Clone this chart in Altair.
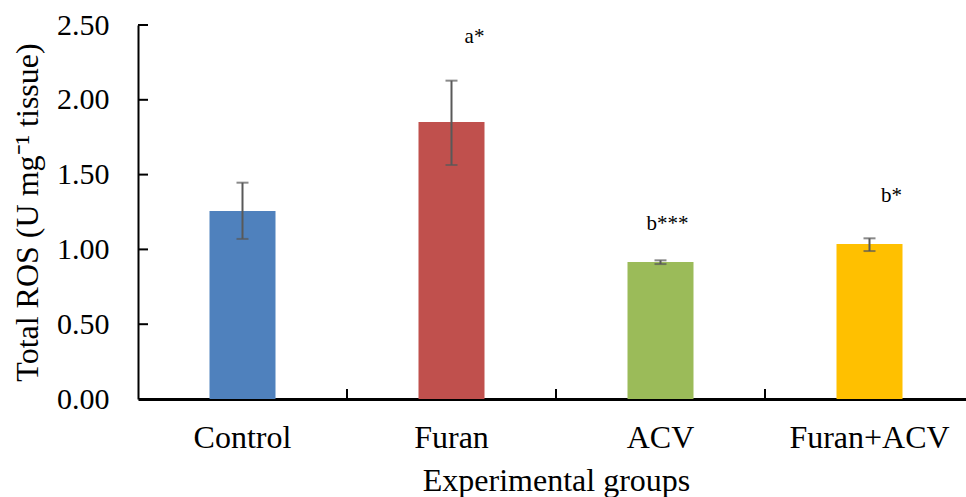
import altair as alt
import pandas as pd

groups = ["Control", "Furan", "ACV", "Furan+ACV"]
means = [1.257, 1.852, 0.916, 1.036]
err_low = [1.070, 1.564, 0.902, 0.989]
err_high = [1.446, 2.128, 0.927, 1.074]
colors = ["#4F81BD", "#C0504D", "#9BBB59", "#FFC000"]

sig_groups = ["Furan", "ACV", "Furan+ACV"]
sig_labels = ["a*", "b***", "b*"]
sig_y = [2.38, 1.13, 1.32]

y_ticks = [0.5, 1.0, 1.5, 2.0, 2.5]

df = pd.DataFrame({"group": groups, "mean": means, "lo": err_low, "hi": err_high, "color": colors})
sig_df = pd.DataFrame({"group": sig_groups, "label": sig_labels, "y": sig_y})
ytick_df = pd.DataFrame({"v": y_ticks})
xtick_df = pd.DataFrame({"group": groups[1:]})

FONT = "Liberation Serif"
H = 374
common = dict(labelFont=FONT, labelColor="black",
              titleFont=FONT, titleFontSize=32, titleColor="black", titleFontWeight="normal")

xscale = alt.Scale(domain=groups, range=[0, 836], paddingInner=0, paddingOuter=0)
yscale = alt.Scale(domain=[0, 2.5], nice=False, zero=True)

x_enc = alt.X("group:N", scale=xscale, sort=groups,
              axis=alt.Axis(title="Experimental groups", labelAngle=0, ticks=False,
                            labelPadding=23, labelFontSize=32, domainWidth=3, domainColor="black",
                            titleBaseline="alphabetic", titleY=91, **common))
y_enc = alt.Y("mean:Q", scale=yscale,
              axis=alt.Axis(title="Total ROS (U mg\u207b\u00b9 tissue)", values=[0] + y_ticks,
                            format=".2f", ticks=False, labelPadding=29, labelFontSize=30,
                            domainWidth=2, domainColor="black", grid=False, titleAngle=-90,
                            titleBaseline="alphabetic", titleX=-101, titleY=187,
                            titleAlign="center", **common))

bars = alt.Chart(df).mark_bar(size=66).encode(
    x=x_enc,
    y=y_enc,
    color=alt.Color("color:N", scale=None),
)

err_rule = alt.Chart(df).mark_rule(color="#595959", strokeWidth=2).encode(
    x=alt.X("group:N", scale=xscale, sort=groups),
    y=alt.Y("lo:Q", scale=yscale),
    y2="hi:Q",
)
cap_lo = alt.Chart(df).mark_tick(color="#595959", size=12, thickness=2).encode(
    x=alt.X("group:N", scale=xscale, sort=groups),
    y=alt.Y("lo:Q", scale=yscale),
)
cap_hi = alt.Chart(df).mark_tick(color="#595959", size=12, thickness=2).encode(
    x=alt.X("group:N", scale=xscale, sort=groups),
    y=alt.Y("hi:Q", scale=yscale),
)

ytick_layer = alt.Chart(ytick_df).mark_rule(color="black", strokeWidth=2).encode(
    y=alt.Y("v:Q", scale=yscale),
    x=alt.value(0),
    x2=alt.value(10),
)
xtick_layer = alt.Chart(xtick_df).mark_rule(color="black", strokeWidth=2).encode(
    x=alt.X("group:N", scale=xscale, sort=groups, bandPosition=0),
    y=alt.value(H - 10),
    y2=alt.value(H),
)

label_dx = [23, 7, 22]
sig_layers = []
for i, g in enumerate(sig_groups):
    sub = sig_df[sig_df["group"] == g]
    sig_layers.append(
        alt.Chart(sub).mark_text(font=FONT, fontSize=21, color="black", dx=label_dx[i],
                                 baseline="alphabetic", align="center").encode(
            x=alt.X("group:N", scale=xscale, sort=groups),
            y=alt.Y("y:Q", scale=yscale),
            text="label:N",
        )
    )

chart = alt.layer(bars, err_rule, cap_lo, cap_hi, ytick_layer, xtick_layer, *sig_layers).properties(
    width=828,
    height=H,
    autosize=alt.AutoSizeParams(type="none"),
    padding={"left": 138, "top": 25, "right": 0, "bottom": 98},
    background="white",
).configure_view(stroke=None).configure_axis(grid=False, **common)

chart.save("out.html", embed_options={"renderer": "svg", "actions": False})
